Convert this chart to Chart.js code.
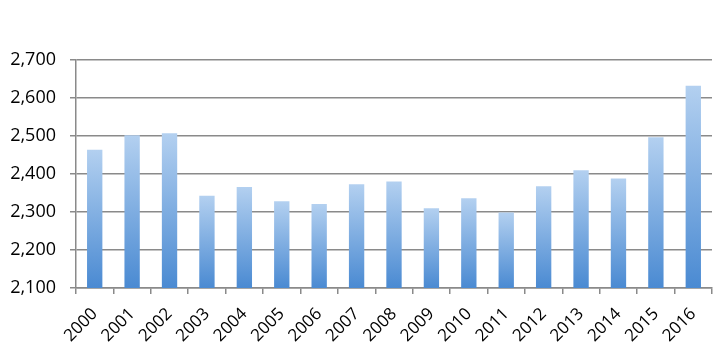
<!DOCTYPE html>
<html>
<head>
<meta charset="utf-8">
<script src="https://cdn.jsdelivr.net/npm/chart.js@4/dist/chart.umd.min.js"></script>
<style>
  html, body { margin: 0; padding: 0; background: #fff; }
  #wrap { width: 722px; height: 364px; }
</style>
</head>
<body>
<div id="wrap"><canvas id="chart"></canvas></div>
<script>
const years = ['2000', '2001', '2002', '2003', '2004', '2005', '2006', '2007', '2008',
  '2009', '2010', '2011', '2012', '2013', '2014', '2015', '2016'];
const values = [2464, 2502, 2507, 2343, 2366, 2328, 2321, 2373, 2380,
  2310, 2336, 2299, 2368, 2410, 2388, 2497, 2632];
const yMin = 2100;
const yMax = 2700;
const yStep = 100;

const gridColor = '#8a8a8a';
const textColor = '#000';

function barFill(context) {
  const chart = context.chart;
  const yScale = chart.scales.y;
  if (!chart.chartArea || !yScale) return '#7aaee3';
  const v = values[context.dataIndex];
  const top = yScale.getPixelForValue(v);
  const bottom = yScale.getPixelForValue(yMin);
  const g = chart.ctx.createLinearGradient(0, top, 0, bottom);
  g.addColorStop(0, '#b3d0f0');
  g.addColorStop(1, '#4a8ad2');
  return g;
}

new Chart(document.getElementById('chart'), {
  type: 'bar',
  data: {
    labels: years,
    datasets: [{
      data: values,
      backgroundColor: barFill,
      borderWidth: 0,
      barPercentage: 0.41,
      categoryPercentage: 1,
    }],
  },
  options: {
    responsive: true,
    maintainAspectRatio: false,
    animation: false,
    layout: { padding: { top: 60, right: 10, left: 0, bottom: 0 } },
    plugins: {
      legend: { display: false },
      tooltip: { enabled: false },
    },
    scales: {
      x: {
        afterFit: (s) => { s.height = 76; },
        grid: {
          offset: true,
          drawOnChartArea: false,
          drawTicks: true,
          tickLength: 6,
          color: gridColor,
          lineWidth: 1.5,
        },
        border: { display: true, color: gridColor, width: 1.5 },
        ticks: {
          color: textColor,
          font: { family: 'Open Sans', size: 17 },
          minRotation: 45,
          maxRotation: 45,
          padding: 10,
          autoSkip: false,
        },
      },
      y: {
        min: yMin,
        max: yMax,
        afterFit: (s) => { s.width = 76; },
        grid: {
          color: gridColor,
          lineWidth: 1.5,
          tickLength: 6,
        },
        border: { display: true, color: gridColor, width: 1.5 },
        ticks: {
          stepSize: yStep,
          color: textColor,
          padding: 14,
          font: { family: 'Open Sans', size: 18 },
          callback: (v) => v.toLocaleString('en-US'),
        },
      },
    },
  },
});
</script>
</body>
</html>
